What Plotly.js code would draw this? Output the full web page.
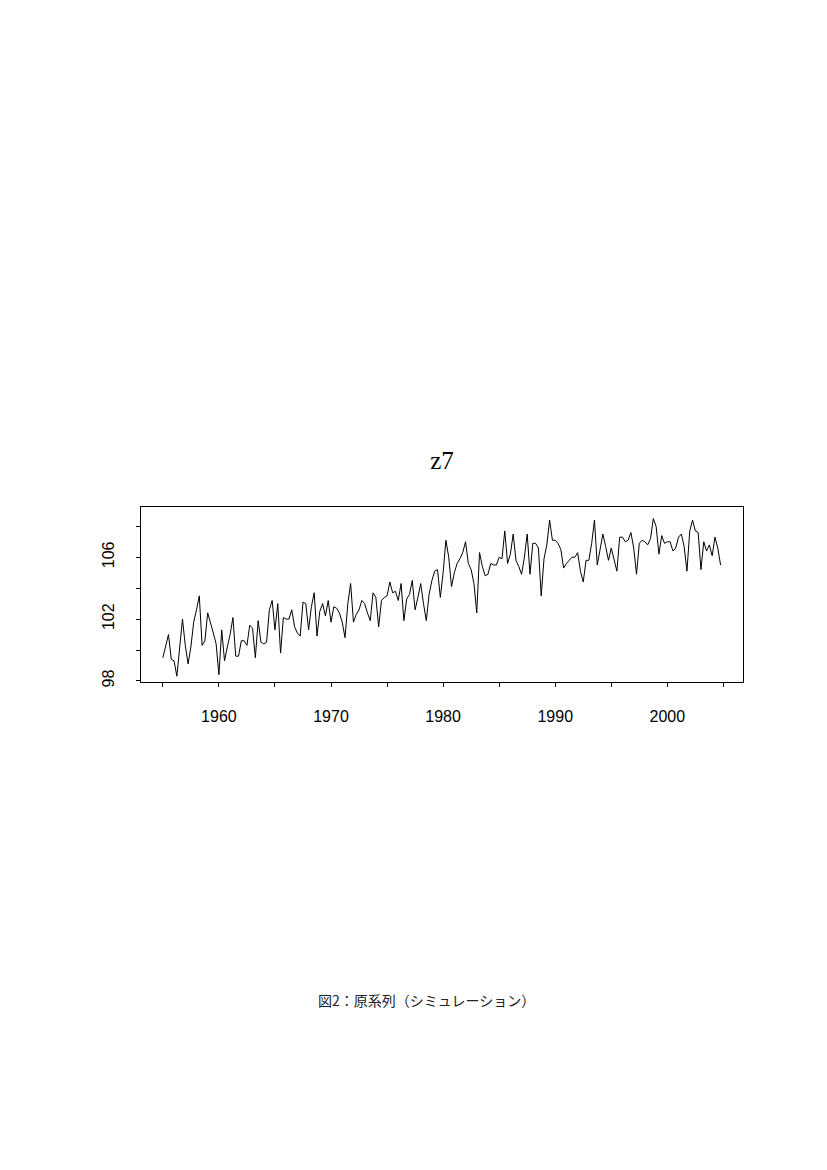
<!DOCTYPE html>
<html>
<head>
<meta charset="utf-8">
<script src="https://cdn.plot.ly/plotly-3.0.1.min.js"></script>
<style>html,body{margin:0;padding:0;background:#fff;}</style>
</head>
<body>
<div id="chart" style="width:827px;height:1170px;"></div>
<script>
// Quarterly series z7, 1955Q1 - 2004Q4
const startYear = 1955;
const periodsPerYear = 4;
const z7 = [
  99.5, 100.3, 101.0, 99.4, 99.3, 98.3, 100.3, 102.0, 100.3, 99.1,
  100.2, 101.8, 102.6, 103.5, 100.3, 100.6, 102.4, 101.8, 101.1, 100.4,
  98.4, 101.3, 99.3, 100.2, 101.0, 102.1, 99.6, 99.6, 100.6, 100.6,
  100.3, 101.6, 101.4, 99.5, 101.9, 100.5, 100.4, 100.5, 102.6, 103.2,
  101.3, 103.0, 99.8, 102.1,
  102.0, 102.0, 102.6, 101.5, 101.1, 100.9, 103.1, 103.0, 101.3, 102.8,
  103.7, 100.9, 102.5, 103.0, 102.2, 103.2, 101.8, 102.8, 102.7, 102.4,
  101.8, 100.8, 103.0, 104.3, 101.8, 102.3, 102.6, 103.2, 103.0, 102.4,
  101.9, 103.7, 103.4, 101.5, 103.2, 103.4, 103.5, 104.4, 103.7, 103.8,
  103.2, 104.3, 101.9, 103.3, 103.6, 104.5, 102.6, 103.4, 104.3, 103.0,
  101.9, 103.6, 104.5, 105.1, 105.2, 103.4,
  105.0, 107.1, 106.0, 104.1, 105.0, 105.6, 105.9, 106.3, 107.0, 105.6,
  105.2, 104.3, 102.4, 106.3, 105.4, 104.8, 104.9, 105.6, 105.5, 105.5,
  106.0, 105.9, 107.7, 105.6, 106.2, 107.5, 105.8, 105.4, 104.9, 106.0,
  107.5, 104.9, 106.9, 106.9, 106.6, 103.5, 105.9, 106.8, 108.4, 107.1,
  107.1, 106.9, 106.5, 105.3, 105.6, 105.8, 106.0, 106.0, 106.3, 105.1,
  104.4, 105.8, 105.8, 106.9, 108.4, 105.5, 106.4, 107.5, 106.7, 105.8,
  106.6, 105.9, 105.1, 107.3, 107.3, 107.0, 107.1, 107.6, 106.6, 104.9,
  106.9, 107.1, 107.0, 106.8, 107.2, 108.5, 108.0, 106.2, 107.4, 106.9,
  107.0, 107.0, 106.4, 106.6, 107.3, 107.5, 106.7, 105.1, 107.7, 108.4,
  107.7, 107.6, 105.2, 107.0, 106.4, 106.8, 106.1, 107.3, 106.6, 105.5
];
const xTickVals = [1955, 1960, 1965, 1970, 1975, 1980, 1985, 1990, 1995, 2000, 2005];
const xTickText = ['', '1960', '', '1970', '', '1980', '', '1990', '', '2000', ''];
const yTickVals = [98, 100, 102, 104, 106, 108];
const yTickText = ['98', '', '102', '', '106', ''];
const chartTitle = 'z7';
const caption = '図2：原系列（シミュレーション）';

const time = z7.map((_, i) => startYear + i / periodsPerYear);

const trace = {
  x: time, y: z7, type: 'scatter', mode: 'lines',
  line: {color: '#000', width: 1}, hoverinfo: 'skip'
};

const layout = {
  width: 827, height: 1170,
  paper_bgcolor: '#fff', plot_bgcolor: '#fff',
  margin: {l: 141, r: 84, t: 507, b: 488, pad: 0},
  showlegend: false,
  title: {
    text: chartTitle,
    font: {family: 'Liberation Serif, serif', size: 25, color: '#000'},
    x: 442 / 827, xanchor: 'center', xref: 'container',
    y: 1 - 460 / 1170, yanchor: 'middle', yref: 'container'
  },
  xaxis: {
    range: [1953.05, 2006.75],
    tickmode: 'array', tickvals: xTickVals, ticktext: xTickText,
    ticks: 'outside', ticklen: 4, tickwidth: 1, tickcolor: '#000',
    showline: true, mirror: true, linecolor: '#000', linewidth: 1,
    showgrid: false, zeroline: false,
    tickfont: {family: 'Liberation Sans, Arial, sans-serif', size: 16, color: '#000'},
    ticklabelstandoff: 16
  },
  yaxis: {
    range: [97.93, 109.25],
    tickmode: 'array', tickvals: yTickVals, ticktext: yTickText,
    tickangle: -90,
    ticks: 'outside', ticklen: 4, tickwidth: 1, tickcolor: '#000',
    showline: true, mirror: true, linecolor: '#000', linewidth: 1,
    showgrid: false, zeroline: false,
    tickfont: {family: 'Liberation Sans, Arial, sans-serif', size: 16, color: '#000'},
    ticklabelstandoff: 16
  },
  annotations: [{
    text: caption, showarrow: false,
    xref: 'paper', yref: 'paper',
    x: (426.5 - 141) / 602, y: (682 - 1000) / 175,
    xanchor: 'center', yanchor: 'middle',
    font: {family: 'Noto Sans CJK JP, sans-serif', size: 14, color: '#222'}
  }]
};

Plotly.newPlot('chart', [trace], layout, {staticPlot: true, displayModeBar: false});
</script>
</body>
</html>
